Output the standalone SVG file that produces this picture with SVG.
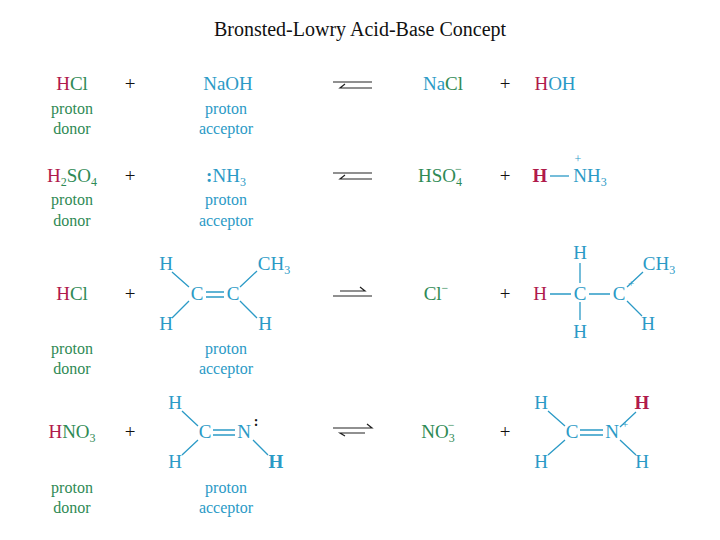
<svg xmlns="http://www.w3.org/2000/svg" width="720" height="540" viewBox="0 0 720 540">
<style>
text{font-family:"Liberation Serif",serif;font-size:19px;text-anchor:middle}
.b{fill:#2b9ac6}.g{fill:#2f8a55}.r{fill:#b01a4c}.k{fill:#111}
.bond{stroke:#2b9ac6;stroke-width:1.3;fill:none}
.arr{stroke:#222;stroke-width:1.2;fill:none}
</style>
<rect width="720" height="540" fill="#fff"/>
<text x="360" y="36" class="k" style="font-size:20px">Bronsted-Lowry Acid-Base Concept</text>
<g id="row1">
<text x="72" y="90"><tspan class="r">H</tspan><tspan class="g">Cl</tspan></text>
<text x="72" y="114" class="g" style="font-size:16px">proton</text>
<text x="72" y="134" class="g" style="font-size:16px">donor</text>
<text x="130" y="90" class="k">+</text>
<text x="228" y="90" class="b">NaOH</text>
<text x="226" y="114" class="b" style="font-size:16px">proton</text>
<text x="226" y="134" class="b" style="font-size:16px">acceptor</text>
<text x="443" y="90"><tspan class="b">Na</tspan><tspan class="g">Cl</tspan></text>
<text x="505" y="90" class="k">+</text>
<text x="555" y="90"><tspan class="r">H</tspan><tspan class="b">OH</tspan></text>
</g>
<g id="row2">
<text x="72" y="182"><tspan class="r">H</tspan><tspan class="g" dy="4" style="font-size:12px">2</tspan><tspan class="g" dy="-4">SO</tspan><tspan class="g" dy="4" style="font-size:12px">4</tspan></text>
<text x="72" y="205" class="g" style="font-size:16px">proton</text>
<text x="72" y="226" class="g" style="font-size:16px">donor</text>
<text x="130" y="182" class="k">+</text>
<text x="226" y="182" class="b"><tspan font-weight="bold">:</tspan>NH<tspan dy="4" style="font-size:12px">3</tspan></text>
<text x="226" y="205" class="b" style="font-size:16px">proton</text>
<text x="226" y="226" class="b" style="font-size:16px">acceptor</text>
<text x="440" y="182" class="g">HSO<tspan dy="4" style="font-size:12px">4</tspan><tspan dx="-7" dy="-13" style="font-size:12px">−</tspan></text>
<text x="505" y="182" class="k">+</text>
<text x="540" y="182" class="r" font-weight="bold">H</text>
<line x1="550" y1="176" x2="569" y2="176" class="bond"/>
<text x="590" y="182" class="b">NH<tspan dy="4" style="font-size:12px">3</tspan></text>
<text x="578" y="163" class="b" style="font-size:12px">+</text>
</g>
<g id="row3">
<text x="72" y="300"><tspan class="r">H</tspan><tspan class="g">Cl</tspan></text>
<text x="72" y="354" class="g" style="font-size:16px">proton</text>
<text x="72" y="374" class="g" style="font-size:16px">donor</text>
<text x="130" y="300" class="k">+</text>
<text x="166" y="270" class="b">H</text>
<text x="274" y="270" class="b">CH<tspan dy="4" style="font-size:12px">3</tspan></text>
<text x="197" y="300" class="b">C</text>
<text x="233" y="300" class="b">C</text>
<text x="166" y="330" class="b">H</text>
<text x="265" y="330" class="b">H</text>
<path class="bond" d="M172 272L189 287M172 318L189 301M206 292H224M206 297H224M240 287L257 271M240 301L257 318"/>
<text x="226" y="354" class="b" style="font-size:16px">proton</text>
<text x="226" y="374" class="b" style="font-size:16px">acceptor</text>
<text x="436" y="300" class="g">Cl<tspan dy="-8" style="font-size:12px">−</tspan></text>
<text x="505" y="300" class="k">+</text>
<text x="540" y="300" class="r">H</text>
<text x="580" y="300" class="b">C</text>
<text x="619" y="300" class="b">C</text>
<text x="631" y="287" class="b" style="font-size:11px">+</text>
<text x="580" y="259" class="b">H</text>
<text x="580" y="338" class="b">H</text>
<text x="659" y="270" class="b">CH<tspan dy="4" style="font-size:12px">3</tspan></text>
<text x="648" y="330" class="b">H</text>
<path class="bond" d="M550 294H571M589 294H610M580 263V283M580 302V320M627 287L643 272M627 301L642 316"/>
</g>
<g id="row4">
<text x="72" y="438"><tspan class="r">H</tspan><tspan class="g">NO</tspan><tspan class="g" dy="4" style="font-size:12px">3</tspan></text>
<text x="72" y="493" class="g" style="font-size:16px">proton</text>
<text x="72" y="513" class="g" style="font-size:16px">donor</text>
<text x="130" y="438" class="k">+</text>
<text x="175" y="409" class="b">H</text>
<text x="205" y="438" class="b">C</text>
<text x="244" y="438" class="b">N</text>
<text x="256" y="426" class="k" style="font-size:14px;font-weight:bold">:</text>
<text x="175" y="468" class="b">H</text>
<text x="276" y="468" class="b" font-weight="bold">H</text>
<path class="bond" d="M182 411L198 426M182 455L198 440M213 430H235M213 435H235M253 440L268 455"/>
<text x="226" y="493" class="b" style="font-size:16px">proton</text>
<text x="226" y="513" class="b" style="font-size:16px">acceptor</text>
<text x="438" y="438" class="g">NO<tspan dy="4" style="font-size:12px">3</tspan><tspan dx="-7" dy="-13" style="font-size:12px">−</tspan></text>
<text x="505" y="438" class="k">+</text>
<text x="541" y="409" class="b">H</text>
<text x="572" y="438" class="b">C</text>
<text x="612" y="438" class="b">N</text>
<text x="625" y="428" class="b" style="font-size:11px">+</text>
<text x="642" y="409" class="r" font-weight="bold">H</text>
<text x="541" y="468" class="b">H</text>
<text x="642" y="468" class="b">H</text>
<path class="bond" d="M548 411L565 426M548 455L565 440M580 430H603M580 435H603M620 427L636 412M620 440L636 455"/>
</g>
<g id="connectors">
<path class="arr" d="M333 82H372M372 88H340l5 -4"/>
<path class="arr" d="M333 173H372M372 179H340l5 -4"/>
<path class="arr" d="M340 291H365l-5 -4M333 296H372"/>
<path class="arr" d="M333 428H372l-5 -4M365 433H340l5 3"/>
</g>
</svg>
